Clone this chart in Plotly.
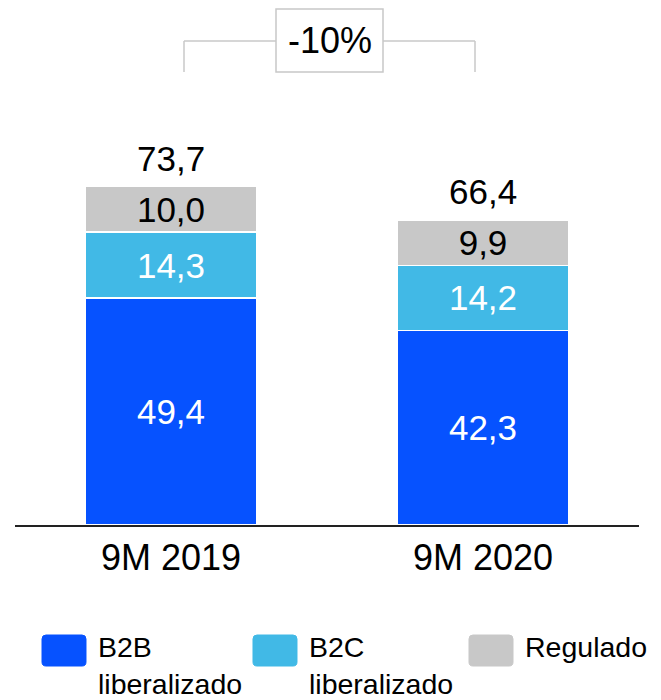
import plotly.graph_objects as go

categories = ["9M 2019", "9M 2020"]
series_names = ["B2B<br>liberalizado", "B2C<br>liberalizado", "Regulado"]
b2b = [49.4, 42.3]
b2c = [14.3, 14.2]
regulado = [10.0, 9.9]
series_values = [b2b, b2c, regulado]
colors = ["#0652FF", "#41B9E6", "#C8C8C8"]
label_colors = ["white", "white", "black"]

totals = [round(a + b + c, 1) for a, b, c in zip(b2b, b2c, regulado)]
change = round((totals[1] / totals[0] - 1) * 100)
change_label = f"{change:d}%"

FONT = "Liberation Sans, Arial, sans-serif"

# page body has an 8px margin; the figure starts at (8, 8) in screen pixels
OFF = 8
SCR_W, SCR_H = 661, 700
W, H = SCR_W - OFF, SCR_H - OFF
PLOT_L, PLOT_R, PLOT_B = 15, 639, 525  # screen px
ML = PLOT_L - OFF
MR = SCR_W - PLOT_R
MT = 0
MB = SCR_H - PLOT_B
PW = PLOT_R - PLOT_L
PH = PLOT_B - OFF - MT

def px(x):
    return (x - PLOT_L) / PW

def py(y):
    return (PLOT_B - y) / PH

def rounded_rect(x0, y0, x1, y1, r):
    def P(x, y):
        return f"{px(x):.5f},{py(y):.5f}"
    return (f"M {P(x0 + r, y0)} L {P(x1 - r, y0)} Q {P(x1, y0)} {P(x1, y0 + r)} "
            f"L {P(x1, y1 - r)} Q {P(x1, y1)} {P(x1 - r, y1)} "
            f"L {P(x0 + r, y1)} Q {P(x0, y1)} {P(x0, y1 - r)} "
            f"L {P(x0, y0 + r)} Q {P(x0, y0)} {P(x0 + r, y0)} Z")

fig = go.Figure()
for name, vals, col, lc in zip(series_names, series_values, colors, label_colors):
    fig.add_trace(go.Bar(
        x=categories, y=vals, name=name,
        marker=dict(color=col, line=dict(color="white", width=1.5)),
        width=0.551,
        texttemplate="%{y:.1f}", textposition="inside",
        insidetextanchor="middle",
        textfont=dict(family=FONT, size=35, color=lc),
        showlegend=False, hoverinfo="skip",
    ))

annotations = []
for cat, tot in zip(categories, totals):
    annotations.append(dict(
        x=cat, y=tot, xref="x", yref="y", text=f"{tot:.1f}".replace(".", ","),
        showarrow=False, yanchor="middle", yshift=28,
        font=dict(family=FONT, size=35, color="black")))

shapes = []
gray = "#C8C8C8"
shapes.append(dict(type="line", xref="paper", yref="paper",
                   x0=px(184), x1=px(276), y0=py(41), y1=py(41), line=dict(color=gray, width=1.5)))
shapes.append(dict(type="line", xref="paper", yref="paper",
                   x0=px(383), x1=px(475), y0=py(41), y1=py(41), line=dict(color=gray, width=1.5)))
shapes.append(dict(type="line", xref="paper", yref="paper",
                   x0=px(184), x1=px(184), y0=py(41), y1=py(72), line=dict(color=gray, width=1.5)))
shapes.append(dict(type="line", xref="paper", yref="paper",
                   x0=px(475), x1=px(475), y0=py(41), y1=py(72), line=dict(color=gray, width=1.5)))
shapes.append(dict(type="rect", xref="paper", yref="paper",
                   x0=px(276), x1=px(383), y0=py(72), y1=py(9), line=dict(color=gray, width=1.5),
                   fillcolor="white"))
annotations.append(dict(x=px(329.5), y=py(41), xref="paper", yref="paper", text=change_label,
                        showarrow=False, xanchor="center", yanchor="middle",
                        font=dict(family=FONT, size=36, color="black")))

leg_x = [42, 253, 469]
for name, col, lx in zip(series_names, colors, leg_x):
    shapes.append(dict(type="path", xref="paper", yref="paper",
                       path=rounded_rect(lx, 635, lx + 44, 666, 4),
                       line=dict(color=col, width=1), fillcolor=col))
    annotations.append(dict(x=px(lx + 54), y=py(629), xref="paper", yref="paper", text=name,
                            showarrow=False, xanchor="left", yanchor="top", align="left",
                            font=dict(family=FONT, size=28.5, color="black")))

fig.update_layout(
    width=W, height=H, barmode="stack", separators=",.",
    margin=dict(l=ML, r=MR, t=MT, b=MB, pad=0),
    paper_bgcolor="white", plot_bgcolor="white",
    uniformtext=dict(minsize=35, mode="show"),
    xaxis=dict(range=[-0.5, 1.5], showline=True, linecolor="#222", linewidth=1.5,
               ticks="", showgrid=False, zeroline=False,
               tickfont=dict(family=FONT, size=36, color="black")),
    yaxis=dict(range=[0, PH / 4.597], visible=False, showgrid=False, zeroline=False),
    annotations=annotations, shapes=shapes,
    font=dict(family=FONT),
)

fig.write_html("out.html")
